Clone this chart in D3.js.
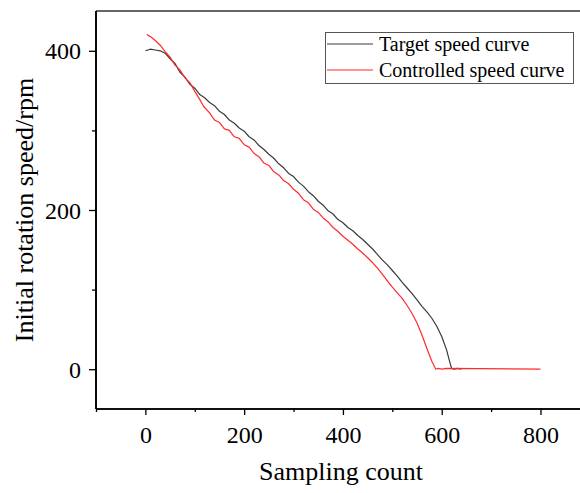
<!DOCTYPE html>
<html>
<head>
<meta charset="utf-8">
<script src="https://cdn.jsdelivr.net/npm/d3@7"></script>
<style>
  html, body { margin: 0; padding: 0; background: #fff; }
  svg { display: block; }
  text { font-family: "Liberation Serif", "Times New Roman", serif; fill: #000; }
</style>
</head>
<body>
<svg id="chart" width="580" height="493"></svg>
<script>
// Sampling index and speed (rpm) of the target profile
const targetX = [0, 10, 20, 30, 40, 50, 60, 70, 80, 90, 100, 110, 120, 130, 140, 150, 160, 170, 180, 190,
  200, 210, 220, 230, 240, 250, 260, 270, 280, 290, 300, 310, 320, 330, 340, 350, 360, 370, 380, 390,
  400, 410, 420, 430, 440, 450, 460, 470, 480, 490, 500, 510, 520, 530, 540, 550, 560, 570, 580, 590,
  600, 610, 615, 620, 625, 632, 640];
const targetY = [400, 402, 401, 400, 397, 390, 384, 373, 367, 358, 353, 345, 341, 335, 331, 324, 320, 313, 309, 303,
  299, 292, 288, 281, 276, 270, 265, 258, 253, 246, 242, 235, 230, 223, 218, 211, 206, 199, 195, 188,
  184, 178, 174, 168, 163, 157, 151, 144, 137, 131, 124, 117, 109, 102, 95, 87, 79, 72, 64, 54,
  41, 24, 12, 1, 0, 1, 0];

// Sampling index and speed (rpm) of the controlled response
const controlX = [3, 6, 10, 20, 30, 40, 50, 60, 70, 80, 90, 100, 110, 118, 130, 140, 150, 160, 170, 180, 190,
  200, 210, 220, 230, 240, 250, 260, 270, 280, 290, 300, 310, 320, 330, 340, 350, 360, 370, 380, 390,
  400, 410, 420, 430, 440, 450, 460, 470, 480, 490, 500, 510, 520, 530, 540, 550, 560, 570, 580, 588,
  593, 600, 610, 800];
const controlY = [421, 419, 418, 413, 407, 399, 392, 382, 376, 366, 360, 349, 339, 330, 322, 313, 310, 302, 300, 292, 290,
  282, 279, 271, 267, 259, 256, 248, 244, 237, 233, 226, 221, 213, 209, 201, 197, 190, 185, 178, 173,
  167, 162, 157, 151, 146, 140, 134, 127, 119, 111, 103, 96, 89, 80, 70, 58, 43, 26, 10, 0,
  1, 0, 1, 0];

const xMajor = [0, 200, 400, 600, 800];
const xMinor = [-100, 100, 300, 500, 700];
const yMajor = [0, 200, 400];
const yMinor = [100, 300];

const legendLabels = ["Target speed curve", "Controlled speed curve"];
const colors = ["#3a3a3a", "#ff2a2a"];

const svg = d3.select("#chart");
const plotLeft = 96, plotRight = 580, plotTop = 11, plotBottom = 409;

const x = d3.scaleLinear().domain([-100, 880]).range([plotLeft, plotRight]);
const y = d3.scaleLinear().domain([-50, 450]).range([plotBottom, plotTop]);

// frame: top edge
svg.append("line")
  .attr("x1", plotLeft).attr("x2", plotRight)
  .attr("y1", plotTop).attr("y2", plotTop)
  .attr("stroke", "#333").attr("stroke-width", 1.6);

// bottom axis
const gx = svg.append("g").attr("transform", `translate(0,${plotBottom})`);
gx.call(d3.axisBottom(x).tickValues(xMajor).tickSize(6).tickFormat(d3.format("d")));
gx.append("g").call(d3.axisBottom(x).tickValues(xMinor).tickSize(3).tickFormat(""));
gx.selectAll(".domain").attr("d", `M${plotLeft},0H${plotRight}`).attr("stroke", "#000").attr("stroke-width", 1.6);
gx.selectAll(".tick line").attr("stroke", "#000").attr("stroke-width", 1.3);
gx.selectAll(".tick text")
  .attr("y", 34).attr("dy", 0)
  .style("font-family", "'Liberation Serif', 'Times New Roman', serif")
  .style("font-size", "24px").attr("fill", "#000");

// left axis
const gy = svg.append("g").attr("transform", `translate(${plotLeft},0)`);
gy.call(d3.axisLeft(y).tickValues(yMajor).tickSize(7).tickFormat(d3.format("d")));
gy.append("g").call(d3.axisLeft(y).tickValues(yMinor).tickSize(4).tickFormat(""));
gy.selectAll(".domain").attr("d", `M0,${plotTop}V${plotBottom}`).attr("stroke", "#000").attr("stroke-width", 1.6);
gy.selectAll(".tick line").attr("stroke", "#000").attr("stroke-width", 1.3);
gy.selectAll(".tick text")
  .attr("x", -15).attr("dy", "0.34em")
  .style("font-family", "'Liberation Serif', 'Times New Roman', serif")
  .style("font-size", "24px").attr("fill", "#000");

// axis titles
svg.append("text")
  .attr("x", 341).attr("y", 480)
  .attr("text-anchor", "middle")
  .style("font-size", "26px")
  .text("Sampling count");

svg.append("text")
  .attr("transform", "translate(33,210) rotate(-90)")
  .attr("text-anchor", "middle")
  .style("font-size", "26px")
  .text("Initial rotation speed/rpm");

// curves
const line = d3.line().x(d => x(d[0])).y(d => y(d[1]));
const series = [
  d3.zip(targetX, targetY),
  d3.zip(controlX, controlY)
];
svg.append("g").selectAll("path")
  .data(series)
  .join("path")
  .attr("d", line)
  .attr("fill", "none")
  .attr("stroke", (d, i) => colors[i])
  .attr("stroke-width", 1.2)
  .attr("stroke-linejoin", "round");

// legend
const lg = svg.append("g");
lg.append("rect")
  .attr("x", 325.5).attr("y", 32.5)
  .attr("width", 248).attr("height", 51)
  .attr("fill", "#fff").attr("stroke", "#555").attr("stroke-width", 1);
legendLabels.forEach((label, i) => {
  const cy = 44 + i * 26;
  lg.append("line")
    .attr("x1", 327).attr("x2", 373)
    .attr("y1", cy).attr("y2", cy)
    .attr("stroke", colors[i]).attr("stroke-width", 1.2);
  lg.append("text")
    .attr("x", 379).attr("y", cy + 6.5)
    .style("font-size", "20px")
    .text(label);
});
</script>
</body>
</html>
